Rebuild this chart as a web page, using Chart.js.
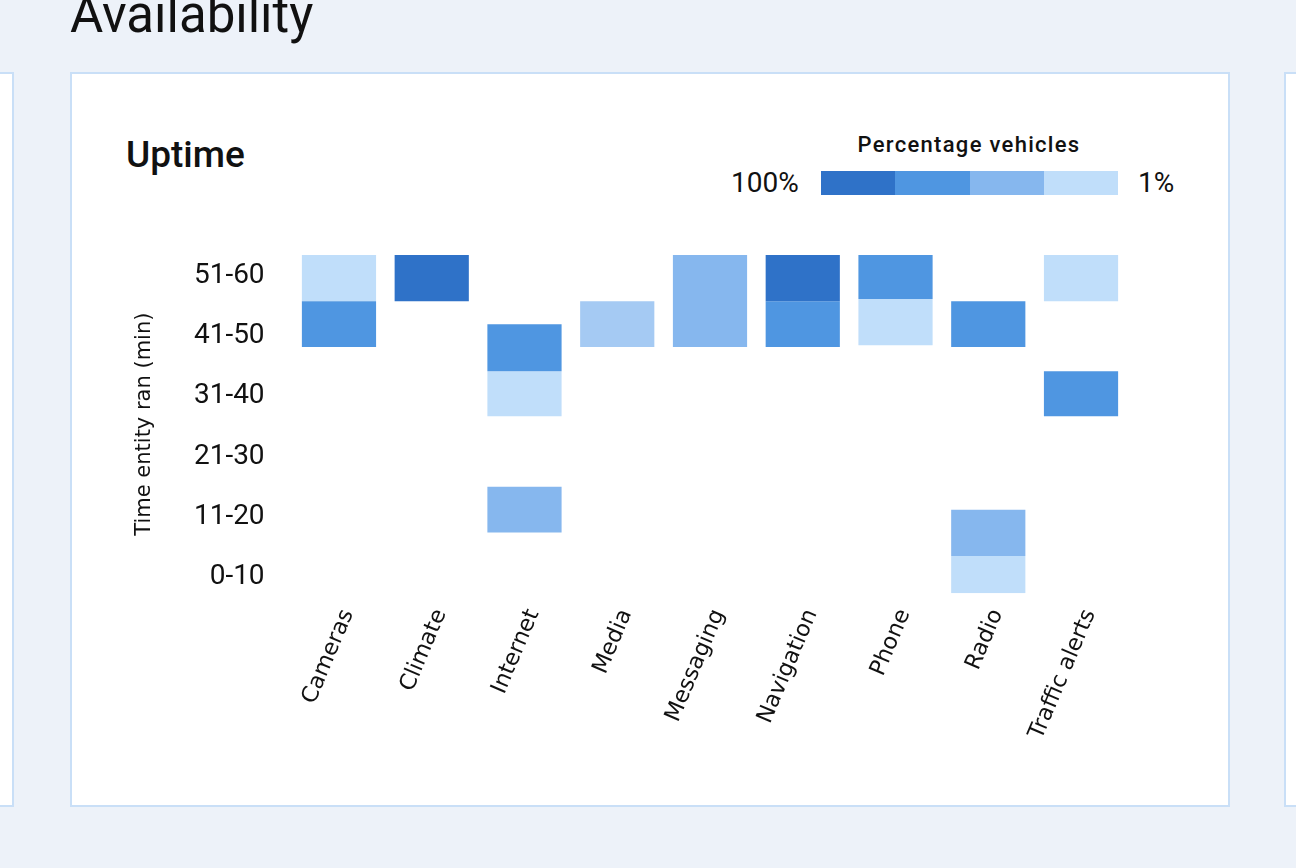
<!DOCTYPE html>
<html lang="en">
<head>
    <meta charset="UTF-8">
    <title>Availability - Uptime</title>
    <script src="https://cdn.jsdelivr.net/npm/chart.js"></script>
    <style>
        html, body {
            margin: 0;
            padding: 0;
            width: 1296px;
            height: 868px;
            overflow: hidden;
            background: #edf2f9;
            font-family: Roboto, Arial, sans-serif;
            color: #111;
        }
        .page-title {
            position: absolute;
            left: 70px;
            top: -15px;
            font-size: 51px;
            font-weight: 400;
            margin: 0;
        }
        .card {
            position: absolute;
            top: 72px;
            height: 731px;
            background: #fff;
            border: 2px solid #c9dff7;
        }
        .card.main { left: 70px; width: 1156px; }
        .card.left { left: -40px; width: 50px; }
        .card.right { left: 1284px; width: 60px; }
        .card-title {
            position: absolute;
            left: 126px;
            top: 131px;
            font-size: 37px;
            font-weight: 500;
            margin: 0;
            line-height: 48px;
        }
        .caption {
            position: absolute;
            left: 819px;
            top: 131px;
            width: 300px;
            text-align: center;
            font-size: 22px;
            font-weight: 500;
            letter-spacing: 1.3px;
            line-height: 28px;
        }
        .end {
            position: absolute;
            top: 167px;
            font-size: 28px;
            line-height: 32px;
        }
        .swatches {
            position: absolute;
            left: 821px;
            top: 171px;
            display: flex;
            height: 24px;
        }
        .swatches span {
            display: block;
            width: 74.25px;
            height: 24px;
        }
        .chart-box {
            position: absolute;
            left: 100px;
            top: 230px;
            width: 1100px;
            height: 560px;
        }
    </style>
</head>
<body>
    <h1 class="page-title">Availability</h1>
    <div class="card left"></div>
    <div class="card right"></div>
    <div class="card main"></div>
    <h2 class="card-title">Uptime</h2>
    <div class="caption">Percentage vehicles</div>
    <div class="end" style="left: 731px;">100%</div>
    <div class="swatches" id="swatches"></div>
    <div class="end" style="left: 1138px;">1%</div>
    <div class="chart-box">
        <canvas id="uptimeChart"></canvas>
    </div>

    <script>
        // categories and bucket labels
        const categories = ['Cameras', 'Climate', 'Internet', 'Media', 'Messaging', 'Navigation', 'Phone', 'Radio', 'Traffic alerts'];
        const yLabels = ['0-10', '11-20', '21-30', '31-40', '41-50', '51-60'];

        // cells as [from, to] on the bucket axis (0 = "0-10" ... 5 = "51-60"), one array per shade
        const shade100 = [null, [4.53, 5.3], null, null, null, [4.53, 5.3], null, null, null];
        const shade75 = [[3.77, 4.53], null, [3.37, 4.15], null, null, [3.77, 4.53], [4.57, 5.3], [3.77, 4.53], [2.62, 3.37]];
        const shade50 = [null, null, [0.69, 1.45], null, [3.77, 5.3], null, null, [0.3, 1.07], null];
        const shade40 = [null, null, null, [3.77, 4.53], null, null, null, null, null];
        const shade1 = [[4.53, 5.3], null, [2.62, 3.37], null, null, null, [3.8, 4.57], [-0.32, 0.3], [4.53, 5.3]];

        const colors = {
            c100: '#2f72c8',
            c75: '#4f96e1',
            c50: '#86b7ee',
            c40: '#a5caf3',
            c1: '#c0defa'
        };

        // legend swatches
        const sw = document.getElementById('swatches');
        [colors.c100, colors.c75, colors.c50, colors.c1].forEach(function(c) {
            const s = document.createElement('span');
            s.style.background = c;
            sw.appendChild(s);
        });

        function cellSet(label, data, color) {
            return {
                label: label,
                data: data,
                backgroundColor: color,
                borderWidth: 0,
                grouped: false,
                barPercentage: 1,
                categoryPercentage: 0.8
            };
        }

        document.addEventListener('DOMContentLoaded', function() {
            const ctx = document.getElementById('uptimeChart');
            new Chart(ctx, {
                type: 'bar',
                data: {
                    labels: categories,
                    datasets: [
                        cellSet('100%', shade100, colors.c100),
                        cellSet('75%', shade75, colors.c75),
                        cellSet('50%', shade50, colors.c50),
                        cellSet('40%', shade40, colors.c40),
                        cellSet('1%', shade1, colors.c1)
                    ]
                },
                options: {
                    responsive: true,
                    maintainAspectRatio: false,
                    animation: false,
                    layout: {
                        padding: { top: 25, right: 72.6, bottom: 0, left: 0 }
                    },
                    plugins: {
                        legend: { display: false },
                        tooltip: { enabled: false }
                    },
                    scales: {
                        x: {
                            type: 'category',
                            grid: { display: false, drawTicks: false },
                            border: { display: false },
                            ticks: {
                                color: '#111',
                                font: { family: '"DejaVu Sans"', size: 22.5 },
                                minRotation: 67,
                                maxRotation: 67,
                                padding: 12,
                                labelOffset: 9
                            },
                            afterFit: function(axis) {
                                axis.height = 196.7;
                                axis.paddingLeft = 0;
                                axis.paddingRight = 0;
                            }
                        },
                        y: {
                            type: 'linear',
                            min: -0.32,
                            max: 5.3,
                            grid: { display: false, drawTicks: false },
                            border: { display: false },
                            afterBuildTicks: function(axis) {
                                axis.ticks = yLabels.map(function(_, i) { return { value: i }; });
                            },
                            ticks: {
                                color: '#111',
                                font: { family: 'Roboto', size: 28 },
                                padding: 28,
                                labelOffset: 3,
                                callback: function(v) { return yLabels[v]; }
                            },
                            title: {
                                display: true,
                                text: 'Time entity ran (min)',
                                color: '#111',
                                font: { family: '"DejaVu Sans"', size: 21 },
                                padding: { top: 32, bottom: 0 }
                            },
                            afterFit: function(axis) {
                                axis.width = 192.6;
                                axis.paddingTop = 0;
                                axis.paddingBottom = 0;
                            }
                        }
                    }
                }
            });
        });
    </script>
</body>
</html>
